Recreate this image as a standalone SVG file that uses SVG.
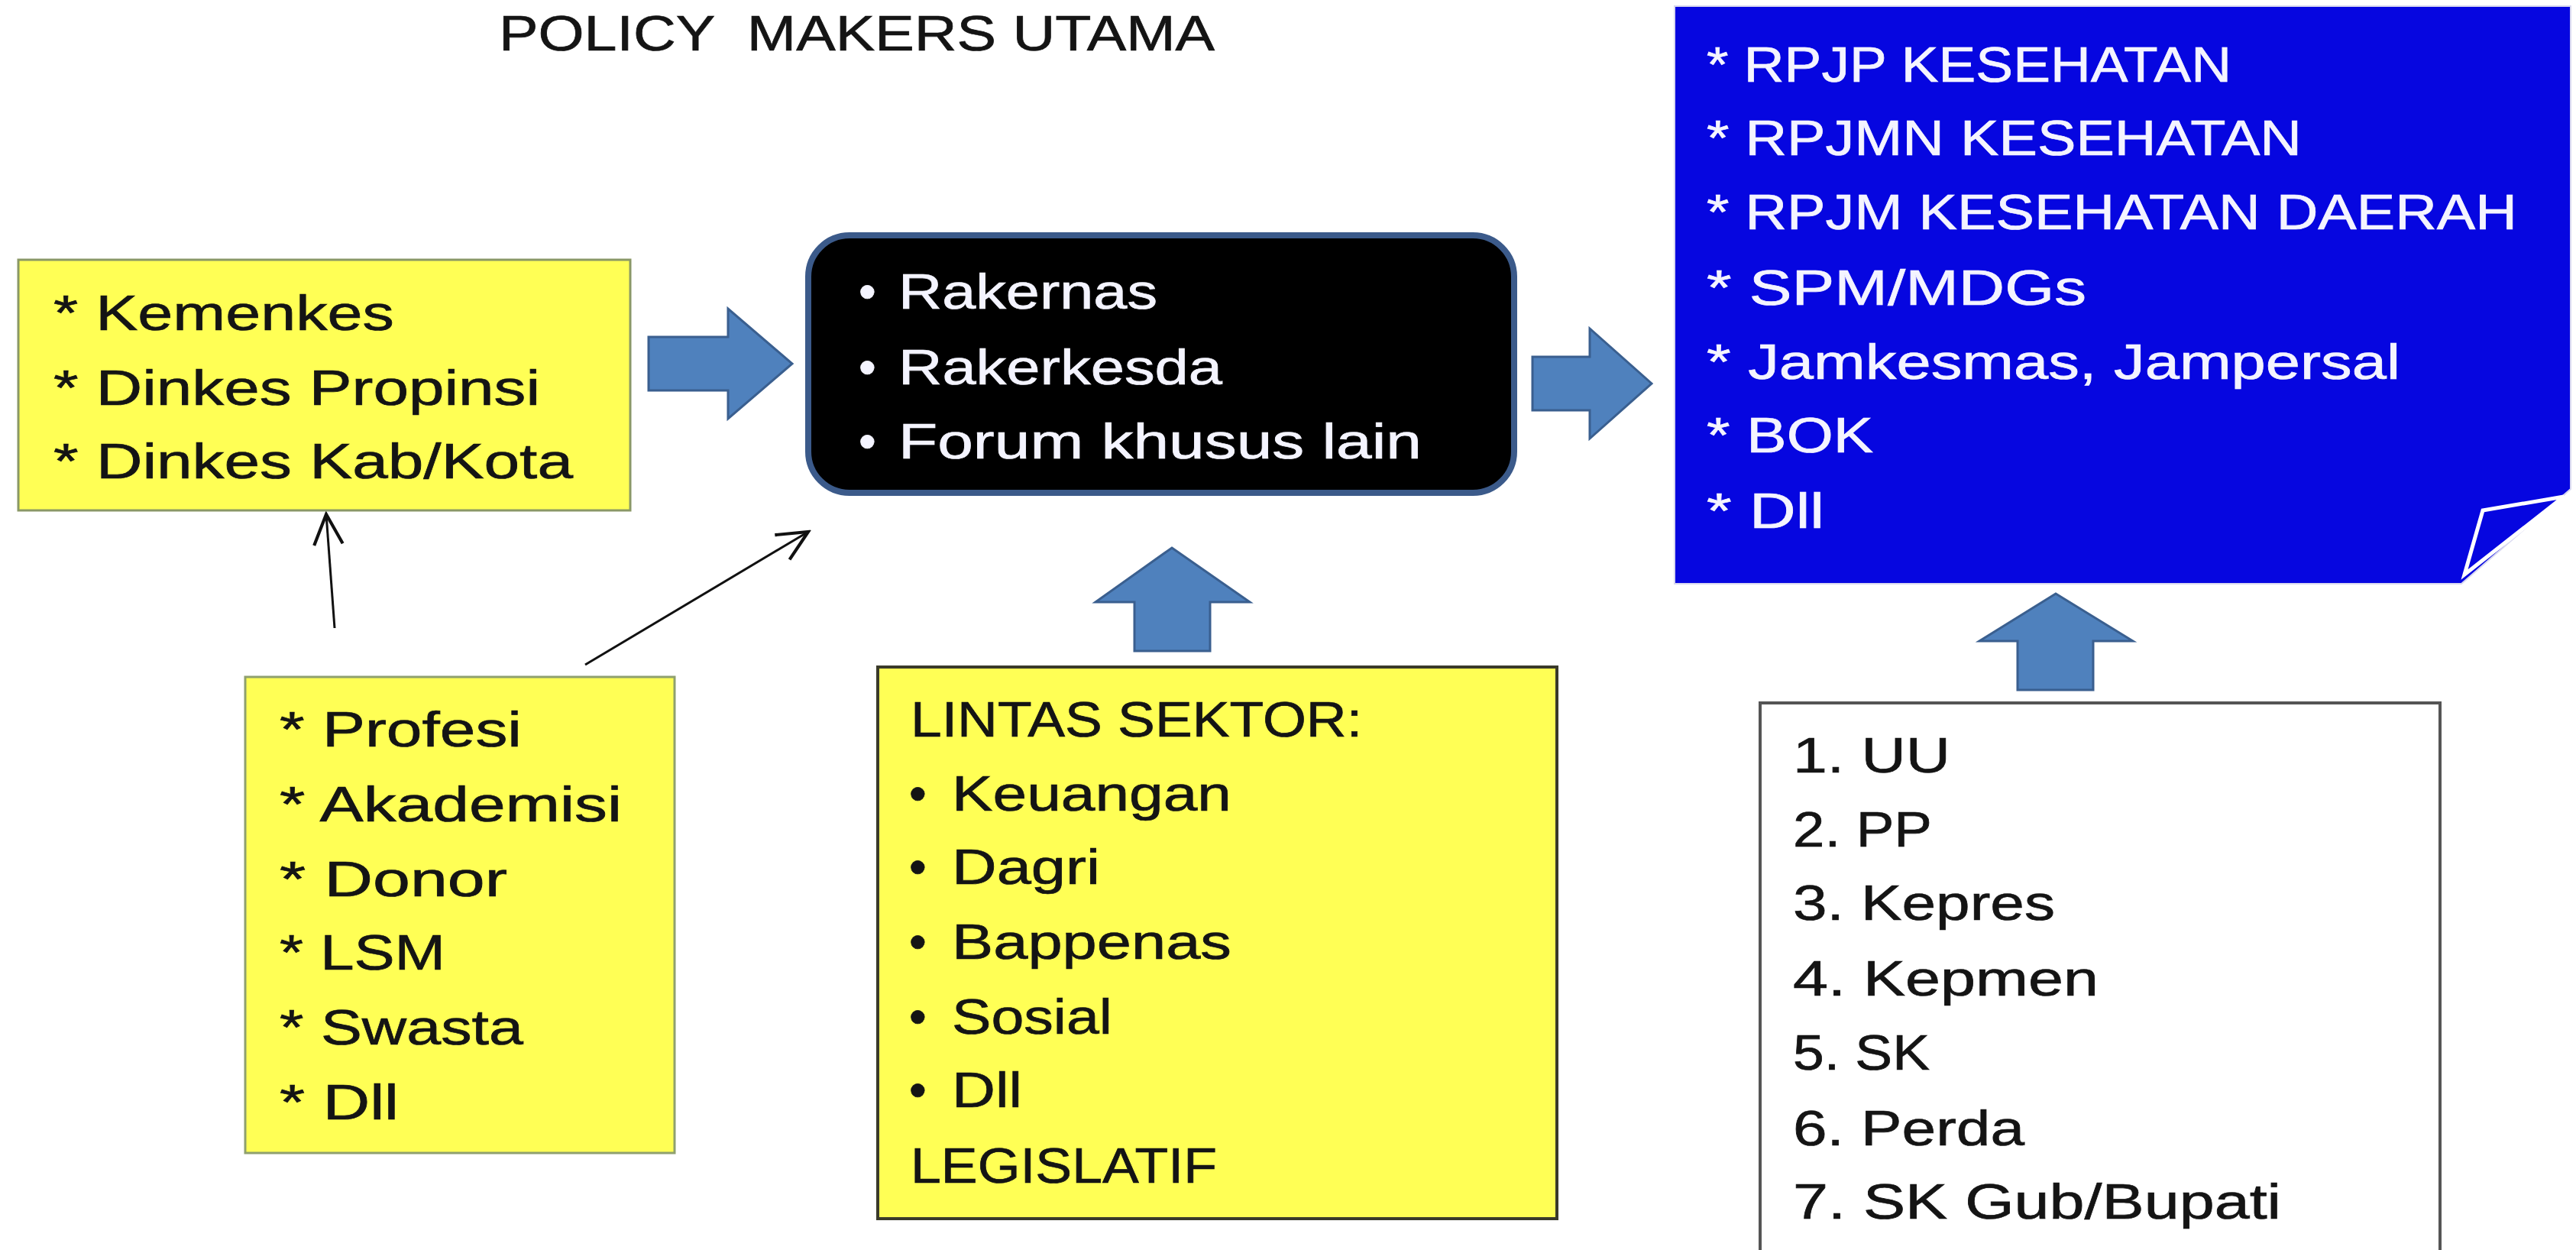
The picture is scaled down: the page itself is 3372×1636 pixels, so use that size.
<svg xmlns="http://www.w3.org/2000/svg" width="3372" height="1636" viewBox="0 0 3372 1636">
<style>
text{font-family:"Liberation Sans",Arial,sans-serif;font-size:65px;stroke-width:0.7px;}
.dk{fill:#141414;stroke:#141414;}
.wt{fill:#f4f4ff;stroke:#f4f4ff;}
.ylw{fill:#ffff55;}
.blk{fill:#4f81bd;stroke:#3a5f8f;stroke-width:3;}
.thin{stroke:#111;stroke-width:3;fill:none;}
</style>
<defs>
<marker id="open" markerUnits="userSpaceOnUse" markerWidth="48" markerHeight="48" refX="42" refY="22" orient="auto" viewBox="0 0 46 44">
<path d="M4,4 L42,22 L4,40" fill="none" stroke="#111" stroke-width="4"/>
</marker>
</defs>
<rect width="3372" height="1636" fill="#ffffff"/>

<g id="title">
<text x="653" y="66" font-size="66" fill="#141414" stroke="#141414" stroke-width="0.5" xml:space="preserve" textLength="937" lengthAdjust="spacingAndGlyphs">POLICY  MAKERS UTAMA</text>
</g>

<g id="connectors">
<polygon class="blk" points="849,441 953,441 953,404 1037,476 953,548 953,511 849,511"/>
<polygon class="blk" points="2006,467 2081,467 2081,430 2162,502 2081,574 2081,537 2006,537"/>
<polygon class="blk" points="1534,717 1636,788 1584,788 1584,852 1485,852 1485,788 1434,788"/>
<polygon class="blk" points="2691,777 2792,839 2740,839 2740,903 2641,903 2641,839 2591,839"/>
<line class="thin" x1="438" y1="822" x2="427" y2="673" marker-end="url(#open)"/>
<line class="thin" x1="766" y1="870" x2="1058" y2="696" marker-end="url(#open)"/>
</g>

<g id="node-dinkes">
<rect x="24" y="340" width="801" height="328" class="ylw" stroke="#8a9866" stroke-width="3"/>
<text class="dk" x="70" y="432" textLength="446" lengthAdjust="spacingAndGlyphs">* Kemenkes</text>
<text class="dk" x="70" y="530" textLength="637" lengthAdjust="spacingAndGlyphs">* Dinkes Propinsi</text>
<text class="dk" x="70" y="626" textLength="680" lengthAdjust="spacingAndGlyphs">* Dinkes Kab/Kota</text>
</g>

<g id="node-forum">
<rect x="1058" y="308" width="924" height="337" rx="54" ry="54" fill="#000000" stroke="#3b5a8a" stroke-width="8"/>
<text class="wt"><tspan x="1124" y="404">•</tspan><tspan x="1176" y="404" textLength="339" lengthAdjust="spacingAndGlyphs">Rakernas</tspan></text>
<text class="wt"><tspan x="1124" y="503">•</tspan><tspan x="1176" y="503" textLength="424" lengthAdjust="spacingAndGlyphs">Rakerkesda</tspan></text>
<text class="wt"><tspan x="1124" y="600">•</tspan><tspan x="1176" y="600" textLength="685" lengthAdjust="spacingAndGlyphs">Forum khusus lain</tspan></text>
</g>

<g id="node-output">
<path d="M2192,8 L3365,8 L3365,640 L3222,764 L2192,764 Z" fill="#0606e0" stroke="#d8d8f0" stroke-width="2"/>
<path d="M3250,668 L3356,650 L3226,752 Z" fill="#0606e0" stroke="#ffffff" stroke-width="5" stroke-linejoin="miter"/>
<text class="wt" x="2234" y="107" textLength="687" lengthAdjust="spacingAndGlyphs">* RPJP KESEHATAN</text>
<text class="wt" x="2234" y="203" textLength="779" lengthAdjust="spacingAndGlyphs">* RPJMN KESEHATAN</text>
<text class="wt" x="2234" y="300" textLength="1061" lengthAdjust="spacingAndGlyphs">* RPJM KESEHATAN DAERAH</text>
<text class="wt" x="2234" y="399" textLength="497" lengthAdjust="spacingAndGlyphs">* SPM/MDGs</text>
<text class="wt" x="2234" y="496" textLength="908" lengthAdjust="spacingAndGlyphs">* Jamkesmas, Jampersal</text>
<text class="wt" x="2234" y="592" textLength="218" lengthAdjust="spacingAndGlyphs">* BOK</text>
<text class="wt" x="2234" y="691" textLength="154" lengthAdjust="spacingAndGlyphs">* Dll</text>
</g>

<g id="node-stakeholder">
<rect x="321" y="886" width="562" height="623" class="ylw" stroke="#8fa06e" stroke-width="3"/>
<text class="dk" x="366" y="977" textLength="317" lengthAdjust="spacingAndGlyphs">* Profesi</text>
<text class="dk" x="366" y="1075" textLength="448" lengthAdjust="spacingAndGlyphs">* Akademisi</text>
<text class="dk" x="366" y="1173" textLength="298" lengthAdjust="spacingAndGlyphs">* Donor</text>
<text class="dk" x="366" y="1269" textLength="217" lengthAdjust="spacingAndGlyphs">* LSM</text>
<text class="dk" x="366" y="1367" textLength="319" lengthAdjust="spacingAndGlyphs">* Swasta</text>
<text class="dk" x="366" y="1465" textLength="156" lengthAdjust="spacingAndGlyphs">* Dll</text>
</g>

<g id="node-lintas">
<rect x="1149" y="873" width="889" height="722" class="ylw" stroke="#3a3a2a" stroke-width="4"/>
<text class="dk" x="1192" y="964" textLength="591" lengthAdjust="spacingAndGlyphs">LINTAS SEKTOR:</text>
<text class="dk"><tspan x="1190" y="1061">•</tspan><tspan x="1246" y="1061" textLength="366" lengthAdjust="spacingAndGlyphs">Keuangan</tspan></text>
<text class="dk"><tspan x="1190" y="1157">•</tspan><tspan x="1246" y="1157" textLength="194" lengthAdjust="spacingAndGlyphs">Dagri</tspan></text>
<text class="dk"><tspan x="1190" y="1255">•</tspan><tspan x="1246" y="1255" textLength="366" lengthAdjust="spacingAndGlyphs">Bappenas</tspan></text>
<text class="dk"><tspan x="1190" y="1353">•</tspan><tspan x="1246" y="1353" textLength="210" lengthAdjust="spacingAndGlyphs">Sosial</tspan></text>
<text class="dk"><tspan x="1190" y="1449">•</tspan><tspan x="1246" y="1449" textLength="92" lengthAdjust="spacingAndGlyphs">Dll</tspan></text>
<text class="dk" x="1192" y="1548" textLength="401" lengthAdjust="spacingAndGlyphs">LEGISLATIF</text>
</g>

<g id="node-regulasi">
<rect x="2304" y="920" width="890" height="740" fill="#ffffff" stroke="#555555" stroke-width="4"/>
<text class="dk" x="2347" y="1011" textLength="206" lengthAdjust="spacingAndGlyphs">1. UU</text>
<text class="dk" x="2347" y="1108" textLength="182" lengthAdjust="spacingAndGlyphs">2. PP</text>
<text class="dk" x="2347" y="1204" textLength="343" lengthAdjust="spacingAndGlyphs">3. Kepres</text>
<text class="dk" x="2347" y="1303" textLength="400" lengthAdjust="spacingAndGlyphs">4. Kepmen</text>
<text class="dk" x="2347" y="1400" textLength="179" lengthAdjust="spacingAndGlyphs">5. SK</text>
<text class="dk" x="2347" y="1499" textLength="303" lengthAdjust="spacingAndGlyphs">6. Perda</text>
<text class="dk" x="2347" y="1595" textLength="639" lengthAdjust="spacingAndGlyphs">7. SK Gub/Bupati</text>
</g>
</svg>
